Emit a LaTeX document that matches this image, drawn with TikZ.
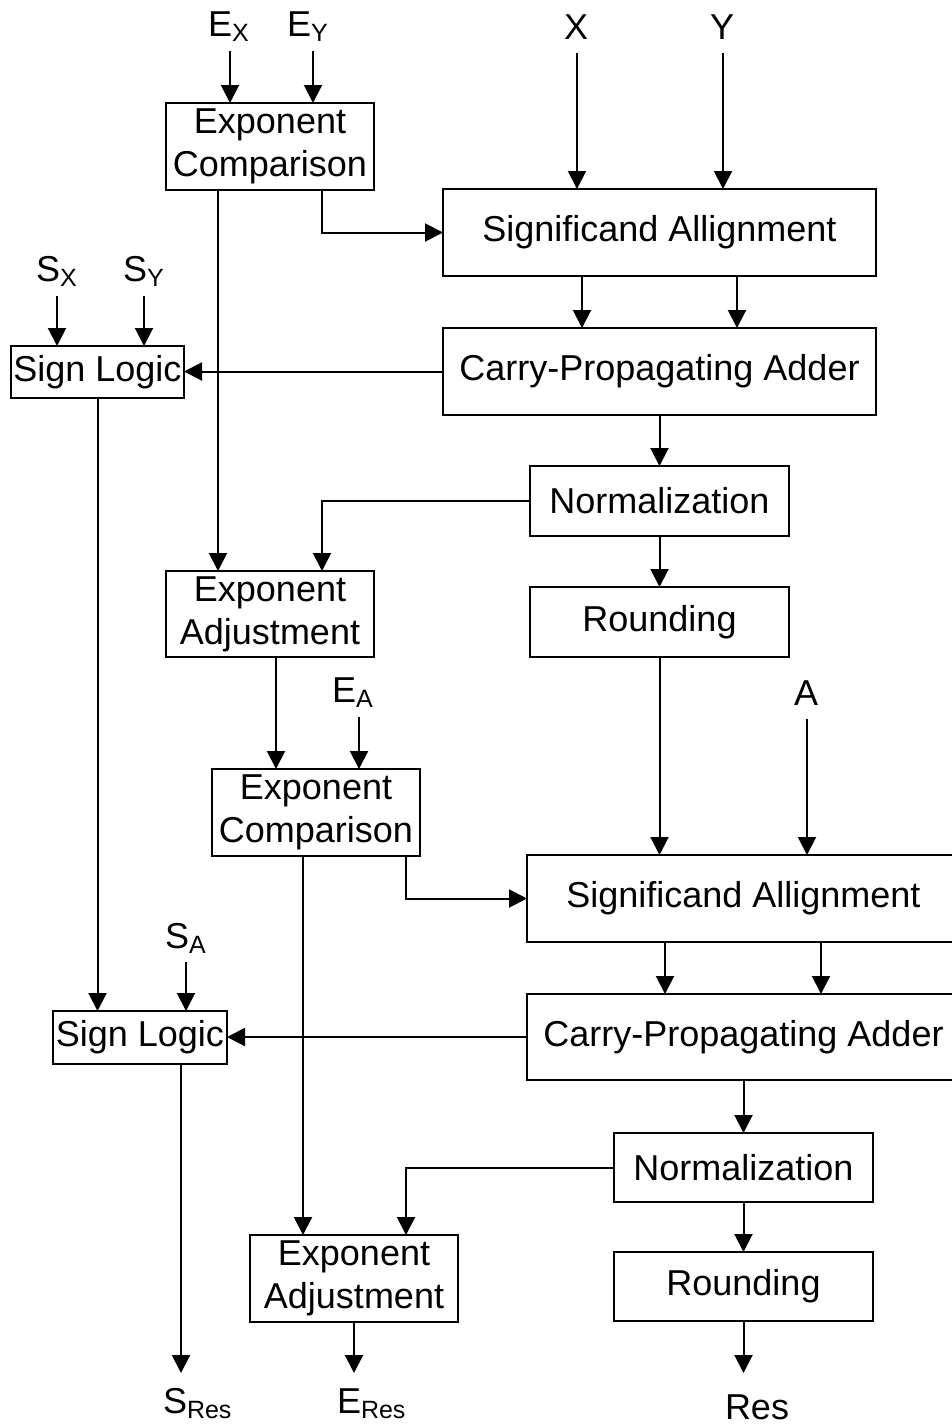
\documentclass[tikz,border=0pt]{standalone}
\usepackage{fontspec}
\setmainfont{Liberation Sans}
\usetikzlibrary{arrows.meta,calc}
% lowered, smaller index text for signal names
\newcommand{\lsub}[1]{\raisebox{-5pt}{\fontsize{25}{25}\selectfont #1}}

\begin{document}
\begin{tikzpicture}[x=1pt,y=-1pt,
  every node/.style={font=\fontsize{36}{43}\selectfont, inner sep=0pt, outer sep=0pt},
  blk/.style={draw, line width=2pt, align=center, fill=white},
  lbl/.style={anchor=base west},
  wire/.style={line width=2pt},
  arr/.style={wire, -{Triangle[length=18pt,width=18pt]}}]
\useasboundingbox (0,0) rectangle (951,1425);

% ---- first stage: X + Y ----
\node[blk, minimum width=208pt, minimum height=87pt] (ec1)  at (270,146.5)  {Exponent\\Comparison};
\node[blk, minimum width=433pt, minimum height=87pt] (sa1)  at (659.5,232.5) {Significand Allignment};
\node[blk, minimum width=433pt, minimum height=87pt] (cpa1) at (659.5,371.5) {Carry-Propagating Adder};
\node[blk, minimum width=173pt, minimum height=52pt] (sl1)  at (97.5,372)   {Sign Logic};
\node[blk, minimum width=259pt, minimum height=70pt] (n1)   at (659.5,501)  {Normalization};
\node[blk, minimum width=259pt, minimum height=70pt] (r1)   at (659.5,622)  {Rounding};
\node[blk, minimum width=208pt, minimum height=86pt] (ea1)  at (270,614)    {Exponent\\Adjustment};

% ---- second stage: (X + Y) + A ----
\node[blk, minimum width=208pt, minimum height=87pt] (ec2)  at (316,812.5)  {Exponent\\Comparison};
\node[blk, minimum width=433pt, minimum height=87pt] (sa2)  at (743.5,898.5) {Significand Allignment};
\node[blk, minimum width=433pt, minimum height=86pt] (cpa2) at (743.5,1037) {Carry-Propagating Adder};
\node[blk, minimum width=174pt, minimum height=53pt] (sl2)  at (140,1037.5) {Sign Logic};
\node[blk, minimum width=259pt, minimum height=69pt] (n2)   at (743.5,1167.5) {Normalization};
\node[blk, minimum width=259pt, minimum height=69pt] (r2)   at (743.5,1286.5) {Rounding};
\node[blk, minimum width=208pt, minimum height=87pt] (ea2)  at (354,1278.5) {Exponent\\Adjustment};

% ---- signal names ----
\node[lbl] (ex)   at (208,36)   {E\lsub{X}};
\node[lbl] (ey)   at (287,36)   {E\lsub{Y}};
\node[lbl] (xin)  at (564,39)   {X};
\node[lbl] (yin)  at (710,39)   {Y};
\node[lbl] (sx)   at (36,281)   {S\lsub{X}};
\node[lbl] (sy)   at (123,281)  {S\lsub{Y}};
\node[lbl] (ea)   at (332,702)  {E\lsub{A}};
\node[lbl] (ain)  at (794,705)  {A};
\node[lbl] (sa)   at (165,948)  {S\lsub{A}};
\node[lbl] (sres) at (163,1413) {S\lsub{Res}};
\node[lbl] (eres) at (337,1413) {E\lsub{Res}};
\node[lbl] (res)  at (725,1419) {Res};

% free ends of the input and output wires
\coordinate (ex-in)  at (230,51);
\coordinate (ey-in)  at (313,51);
\coordinate (x-in)   at (577,53);
\coordinate (y-in)   at (723,53);
\coordinate (sx-in)  at (57,296);
\coordinate (sy-in)  at (144,296);
\coordinate (ea-in)  at (359,717);
\coordinate (a-in)   at (807,719);
\coordinate (sa-in)  at (186,962);
\coordinate (sres-out) at (181,1373);
\coordinate (eres-out) at (354,1373);
\coordinate (res-out)  at (743.5,1373);

% ---- inputs ----
\draw[arr] (ex-in) -- (ex-in |- ec1.north);
\draw[arr] (ey-in) -- (ey-in |- ec1.north);
\draw[arr] (x-in) -- (x-in |- sa1.north);
\draw[arr] (y-in) -- (y-in |- sa1.north);
\draw[arr] (sx-in) -- (sx-in |- sl1.north);
\draw[arr] (sy-in) -- (sy-in |- sl1.north);
\draw[arr] (ea-in) -- (ea-in |- ec2.north);
\draw[arr] (a-in) -- (a-in |- sa2.north);
\draw[arr] (sa-in) -- (sa-in |- sl2.north);

% ---- first stage wiring ----
\draw[arr] ([xshift=52pt]ec1.south) |- (sa1.west);
\draw[arr] ([xshift=-77.5pt]sa1.south) -- ([xshift=-77.5pt]cpa1.north);
\draw[arr] ([xshift=77.5pt]sa1.south) -- ([xshift=77.5pt]cpa1.north);
\draw[arr] (cpa1.west) -- (cpa1.west -| sl1.east);
\draw[arr] ([xshift=-52pt]ec1.south) -- ([xshift=-52pt]ea1.north);
\draw[arr] (cpa1.south) -- (n1.north);
\draw[arr] (n1.west) -| ([xshift=52pt]ea1.north);
\draw[arr] (n1.south) -- (r1.north);

% ---- between the stages ----
\draw[arr] ([xshift=6pt]ea1.south) -- ([xshift=-40pt]ec2.north);
\draw[arr] (r1.south) -- (r1.south |- sa2.north);
\draw[arr] (sl1.south) -- (sl1.south |- sl2.north);

% ---- second stage wiring ----
\draw[arr] ([xshift=90pt]ec2.south) |- (sa2.west);
\draw[arr] ([xshift=-78.5pt]sa2.south) -- ([xshift=-78.5pt]cpa2.north);
\draw[arr] ([xshift=77.5pt]sa2.south) -- ([xshift=77.5pt]cpa2.north);
\draw[arr] (cpa2.west) -- (cpa2.west -| sl2.east);
\draw[arr] ([xshift=-13pt]ec2.south) -- ([xshift=-51pt]ea2.north);
\draw[arr] (cpa2.south) -- (n2.north);
\draw[arr] (n2.west) -| ([xshift=52pt]ea2.north);
\draw[arr] (n2.south) -- (r2.north);

% ---- outputs ----
\draw[arr] ([xshift=41pt]sl2.south) -- (sres-out);
\draw[arr] (ea2.south) -- (eres-out);
\draw[arr] (r2.south) -- (res-out);
\end{tikzpicture}
\end{document}
